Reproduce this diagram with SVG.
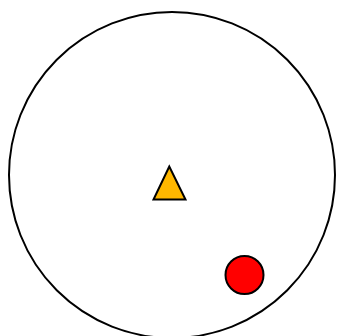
<svg xmlns="http://www.w3.org/2000/svg" width="337" height="336" viewBox="0 0 337 336">
<style>
.s{stroke:#000;stroke-width:2}
</style>
<rect width="337" height="336" fill="#fff"/>
<g id="boundary"><circle cx="172" cy="175" r="163" fill="none" class="s"/></g>
<g id="triangle"><polygon points="169.3,166.5 153.5,199.5 185.5,199.5" fill="#FFB800" class="s" stroke-linejoin="miter"/></g>
<g id="dot"><circle cx="244.5" cy="275" r="19" fill="#FF0000" class="s"/></g>
<g id="connectors"></g>
</svg>
